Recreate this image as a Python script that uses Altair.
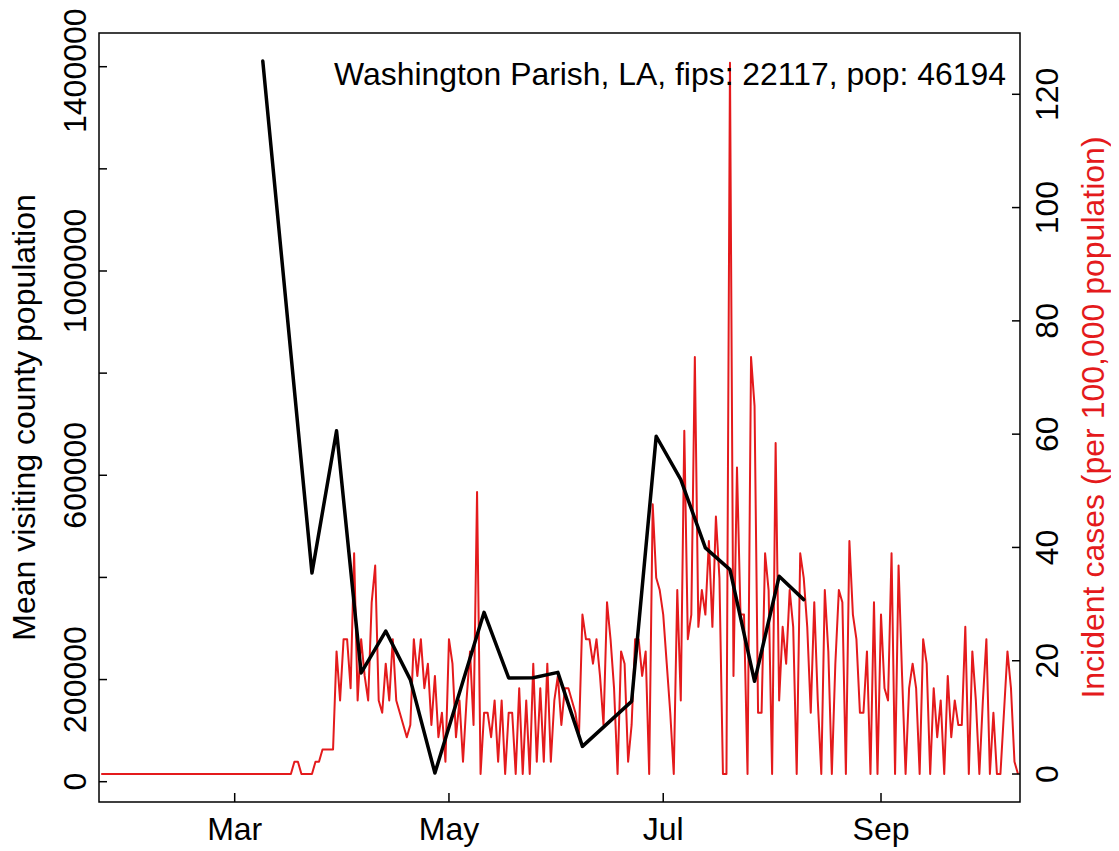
import altair as alt
import pandas as pd

FONT = "Liberation Sans, Arial, Helvetica, sans-serif"
RED = "#E41A1C"

COUNTY = "Washington Parish, LA"
FIPS = 22117
POP = 46194

# axis ticks and labels
month_tick_dates = ["2020-03-01", "2020-05-01", "2020-07-01", "2020-09-01"]
month_tick_labels = ["Mar", "May", "Jul", "Sep"]
left_ticks = [0, 200000, 400000, 600000, 800000, 1000000, 1200000, 1400000]
left_tick_labels = [0, 200000, 600000, 1000000]
left_top_label = [1400000]
right_ticks = [0, 20, 40, 60, 80, 100, 120]
left_title = "Mean visiting county population"
right_title = "Incident cases (per 100,000 population)"

# weekly mean visiting county population (black)
visit_dates = ["2020-03-09", "2020-03-23", "2020-03-30", "2020-04-06", "2020-04-13",
               "2020-04-20", "2020-04-27", "2020-05-11", "2020-05-18", "2020-05-25",
               "2020-06-01", "2020-06-08", "2020-06-22", "2020-06-29", "2020-07-06",
               "2020-07-13", "2020-07-20", "2020-07-27", "2020-08-03", "2020-08-10"]
visit_values = [1411000, 408600, 687000, 212900, 295000,
                199800, 17000, 331600, 203100, 203700,
                214100, 69100, 157300, 676400, 591600,
                457800, 415300, 196500, 402200, 356500]

# daily incident cases (counts), starting on case_start_date
case_start_date = "2020-01-23"
daily_cases = [
    0, 0, 0, 0, 0, 0, 0, 0, 0, 0,
    0, 0, 0, 0, 0, 0, 0, 0, 0, 0,
    0, 0, 0, 0, 0, 0, 0, 0, 0, 0,
    0, 0, 0, 0, 0, 0, 0, 0,
    0, 0, 0, 0, 0, 0, 0, 0, 0, 0,
    0, 0, 0, 0, 0, 0, 0, 1, 1, 0,
    0, 0, 0, 1, 1, 2, 2, 2, 2, 10,
    6, 11, 11, 7, 18, 6, 11, 8, 6, 14,
    17, 6, 5, 9, 6, 11, 6, 5, 4, 3,
    4, 11, 8, 11, 7, 9, 4, 8, 3, 5,
    1, 11, 9, 3, 6, 1, 6, 10, 4, 23,
    0, 5, 5, 3, 6, 1, 6, 0, 5, 5,
    0, 7, 0, 6, 0, 9, 1, 7, 1, 9,
    1, 6, 8, 4, 7, 7, 6, 5, 3, 13,
    11, 11, 9, 11, 8, 4, 14, 11, 7, 0,
    10, 9, 1, 4, 11, 11, 8, 10, 0, 22,
    16, 15, 13, 9, 5, 0, 15, 6, 28, 11,
    13, 34, 12, 15, 13, 19, 12, 21, 16, 0,
    0, 58, 8, 25, 13, 13, 0, 34, 30, 5,
    5, 18, 15, 0, 27, 6, 12, 9, 15, 12,
    0, 18, 16, 12, 5, 14, 6, 0, 15, 10,
    0, 9, 15, 14, 0, 19, 13, 11, 5, 5,
    10, 0, 14, 0, 13, 7, 6, 18, 0, 17,
    8, 0, 7, 9, 7, 0, 11, 9, 0, 7,
    3, 6, 0, 8, 3, 6, 4, 4, 12, 0,
    10, 6, 0, 6, 11, 0, 5, 0, 0, 5,
    10, 7, 1, 0,
]

# scale domains (days relative to 1 Mar 2020, and value ranges incl. R's padding)
x_domain = [-38.63, 223.57]
left_domain = [-39750, 1466000]
right_domain = [-4.94, 130.82]

ORIGIN = pd.Timestamp("2020-03-01")


def to_day(ts):
    return (pd.Timestamp(ts) - ORIGIN) / pd.Timedelta(days=1)


visits = pd.DataFrame({"day": [to_day(d) for d in visit_dates], "visitors": visit_values})
case_dates = pd.date_range(case_start_date, periods=len(daily_cases), freq="D")
cases = pd.DataFrame({
    "day": [to_day(d) for d in case_dates],
    "incidence": [c * 100000 / POP for c in daily_cases],
})
month_df = pd.DataFrame({"day": [to_day(d) for d in month_tick_dates], "label": month_tick_labels})
left_tick_df = pd.DataFrame({"v": left_ticks})
left_label_df = pd.DataFrame({"v": left_tick_labels, "label": [str(v) for v in left_tick_labels]})
left_top_df = pd.DataFrame({"v": left_top_label, "label": [str(v) for v in left_top_label]})
right_df = pd.DataFrame({"v": right_ticks, "label": [str(v) for v in right_ticks]})

W, H = 921, 769
FS = 32

x_scale = alt.Scale(domain=x_domain, nice=False, zero=False)
left_scale = alt.Scale(domain=left_domain, nice=False, zero=False)
right_scale = alt.Scale(domain=right_domain, nice=False, zero=False)

txt = dict(font=FONT, fontSize=FS, color="black")

# ---- red (right scale) group
red_line = alt.Chart(cases).mark_line(color=RED, strokeWidth=2, strokeJoin="round").encode(
    x=alt.X("day:Q", scale=x_scale, axis=None),
    y=alt.Y("incidence:Q", scale=right_scale, axis=None),
)
right_tick_marks = alt.Chart(right_df).mark_rule(color="black", strokeWidth=1.5).encode(
    y=alt.Y("v:Q", scale=right_scale, axis=None),
    x=alt.value(W - 8), x2=alt.value(W),
)
right_labels = alt.Chart(right_df).mark_text(
    angle=270, align="center", baseline="alphabetic", **txt).encode(
    y=alt.Y("v:Q", scale=right_scale, axis=None),
    x=alt.value(W + 38), text="label:N",
)
right_title_mark = alt.Chart(pd.DataFrame({"t": [right_title]})).mark_text(
    angle=270, align="center", baseline="alphabetic", font=FONT, fontSize=FS, color=RED).encode(
    x=alt.value(W + 84), y=alt.value(H / 2), text="t:N",
)

# ---- black (left scale) group
black_line = alt.Chart(visits).mark_line(
    color="black", strokeWidth=3.5, strokeJoin="round", strokeCap="round").encode(
    x=alt.X("day:Q", scale=x_scale, axis=None),
    y=alt.Y("visitors:Q", scale=left_scale, axis=None),
)
left_tick_marks = alt.Chart(left_tick_df).mark_rule(color="black", strokeWidth=1.5).encode(
    y=alt.Y("v:Q", scale=left_scale, axis=None),
    x=alt.value(0), x2=alt.value(8),
)
left_labels = alt.Chart(left_label_df).mark_text(
    angle=270, align="center", baseline="alphabetic", **txt).encode(
    y=alt.Y("v:Q", scale=left_scale, axis=None),
    x=alt.value(-13), text="label:N",
)
# top label nudged a few pixels down so it stays inside the page
left_top_labels = alt.Chart(left_top_df).mark_text(
    angle=270, align="center", baseline="alphabetic", dx=-4, **txt).encode(
    y=alt.Y("v:Q", scale=left_scale, axis=None),
    x=alt.value(-13), text="label:N",
)
left_title_mark = alt.Chart(pd.DataFrame({"t": [left_title]})).mark_text(
    angle=270, align="center", baseline="alphabetic", **txt).encode(
    x=alt.value(-64.5), y=alt.value(H / 2), text="t:N",
)
bottom_tick_marks = alt.Chart(month_df).mark_rule(color="black", strokeWidth=1.5).encode(
    x=alt.X("day:Q", scale=x_scale, axis=None),
    y=alt.value(H - 9), y2=alt.value(H),
)
bottom_labels = alt.Chart(month_df).mark_text(
    align="center", baseline="alphabetic", **txt).encode(
    x=alt.X("day:Q", scale=x_scale, axis=None),
    y=alt.value(H + 38), text="label:N",
)
note_text = f"{COUNTY}, fips: {FIPS}, pop: {POP}"
note = alt.Chart(pd.DataFrame({"label": [note_text]})).mark_text(
    align="right", baseline="alphabetic", font=FONT, fontSize=31.9, color="black").encode(
    x=alt.value(907), y=alt.value(52), text="label:N",
)

right_group = alt.layer(red_line, right_tick_marks, right_labels, right_title_mark)
left_group = alt.layer(black_line, left_tick_marks, left_labels, left_top_labels,
                       left_title_mark, bottom_tick_marks, bottom_labels, note)

chart = alt.layer(right_group, left_group).resolve_scale(y="independent").properties(
    width=W, height=H,
    padding={"left": 91, "top": 25, "right": 91, "bottom": 46},
    autosize=alt.AutoSizeParams(type="none"),
    background="white",
).configure_view(stroke="black", strokeWidth=1.5)

chart.save("out.html", embed_options={"renderer": "svg", "actions": False})
